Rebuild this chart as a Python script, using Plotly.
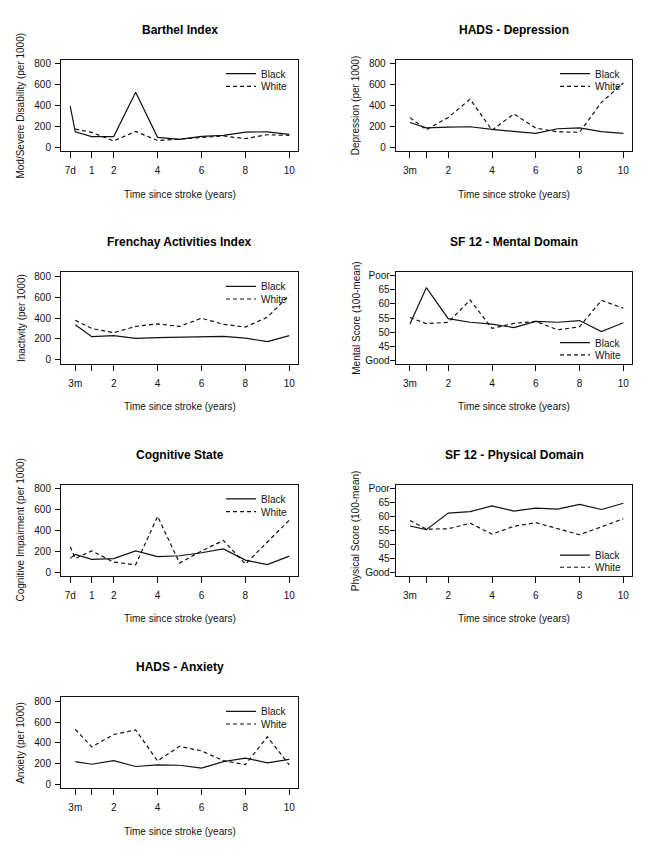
import plotly.graph_objects as go

# ---------------- data ----------------
D7 = 7 / 365          # 7 days in years
M3 = 0.25             # 3 months
years = [1, 2, 3, 4, 5, 6, 7, 8, 9, 10]
t_7d = [D7, M3] + years
t_3m = [M3] + years

barthel_black = [395, 150, 104, 104, 527, 97, 78, 107, 116, 147, 150, 125]
barthel_white = [176, 144, 63, 154, 66, 82, 94, 110, 85, 122, 116]
depr_black = [238, 188, 195, 198, 173, 157, 135, 179, 188, 151, 135]
depr_white = [285, 170, 287, 461, 166, 320, 185, 150, 145, 430, 615]
fren_black = [336, 222, 232, 206, 213, 218, 222, 224, 208, 174, 232]
fren_white = [378, 300, 260, 320, 344, 320, 398, 340, 314, 408, 618]
mental_black = [52.9, 65.8, 54.8, 53.5, 52.8, 51.6, 53.8, 53.5, 54.1, 50.2, 53.3]
mental_white = [55.2, 53.0, 53.5, 61.4, 51.3, 53.1, 53.8, 50.8, 51.9, 61.3, 58.5]
cog_black = [133, 172, 123, 130, 205, 150, 158, 187, 224, 116, 73, 155]
cog_white = [245, 132, 205, 97, 72, 536, 88, 204, 305, 78, 290, 499]
phys_black = [56.6, 55.3, 61.2, 61.7, 63.8, 61.9, 63.0, 62.6, 64.3, 62.5, 64.7]
phys_white = [58.6, 55.5, 55.6, 57.6, 53.7, 56.5, 57.8, 55.6, 53.5, 56.3, 59.2]
anx_black = [220, 195, 229, 173, 188, 185, 157, 220, 254, 207, 242]
anx_white = [530, 361, 480, 524, 226, 367, 323, 229, 191, 458, 188]

ticks_7d_vals = [D7, 1, 2, 4, 6, 8, 10]
ticks_7d_text = ["7d", "1", "2", "4", "6", "8", "10"]
ticks_3m_vals = [M3, 1, 2, 4, 6, 8, 10]
ticks_3m_text = ["3m", "", "2", "4", "6", "8", "10"]
rate_ticks = [0, 200, 400, 600, 800]
rate_text = ["0", "200", "400", "600", "800"]
score_ticks = [40, 45, 50, 55, 60, 65, 70]
score_text = ["Good", "45", "50", "55", "60", "65", "Poor"]

panels = [
    dict(title="Barthel Index", ylab="Mod/Severe Disability (per 1000)",
         xb=t_7d, yb=barthel_black, xw=t_3m, yw=barthel_white,
         xt=(ticks_7d_vals, ticks_7d_text), yt="rate", col=0, row=0, leg="top"),
    dict(title="HADS - Depression", ylab="Depression (per 1000)",
         xb=t_3m, yb=depr_black, xw=t_3m, yw=depr_white,
         xt=(ticks_3m_vals, ticks_3m_text), yt="rate", col=1, row=0, leg="top"),
    dict(title="Frenchay Activities Index", ylab="Inactivity (per 1000)",
         xb=t_3m, yb=fren_black, xw=t_3m, yw=fren_white,
         xt=(ticks_3m_vals, ticks_3m_text), yt="rate", col=0, row=1, leg="top"),
    dict(title="SF 12 - Mental Domain", ylab="Mental Score (100-mean)",
         xb=t_3m, yb=mental_black, xw=t_3m, yw=mental_white,
         xt=(ticks_3m_vals, ticks_3m_text), yt="score", col=1, row=1, leg="bottom"),
    dict(title="Cognitive State", ylab="Cognitive Impairment (per 1000)",
         xb=t_7d, yb=cog_black, xw=t_7d, yw=cog_white,
         xt=(ticks_7d_vals, ticks_7d_text), yt="rate", col=0, row=2, leg="top"),
    dict(title="SF 12 - Physical Domain", ylab="Physical Score (100-mean)",
         xb=t_3m, yb=phys_black, xw=t_3m, yw=phys_white,
         xt=(ticks_3m_vals, ticks_3m_text), yt="score", col=1, row=2, leg="bottom"),
    dict(title="HADS - Anxiety", ylab="Anxiety (per 1000)",
         xb=t_3m, yb=anx_black, xw=t_3m, yw=anx_white,
         xt=(ticks_3m_vals, ticks_3m_text), yt="rate", col=0, row=3, leg="top"),
]

# ---------------- layout geometry (page pixels) ----------------
OFF = 8                      # default body margin of the html page
W, H = 655 - 2 * OFF, 858 - 2 * OFF
COLS = [(61.0, 298.3), (395.7, 632.3)]
ROWS = [(58.0, 150.0), (271.7, 363.3), (485.3, 576.7), (698.7, 790.0)]
FONT = "Liberation Sans, Arial, Helvetica, sans-serif"
INK = "#111111"

fig = go.Figure()
layout = dict(
    width=W, height=H, margin=dict(l=0, r=0, t=0, b=0, pad=0),
    paper_bgcolor="white", plot_bgcolor="white",
    font=dict(family=FONT, size=10, color=INK),
    showlegend=True,
)
annotations = []

for i, p in enumerate(panels):
    n = i + 1
    xa = "x" if n == 1 else f"x{n}"
    ya = "y" if n == 1 else f"y{n}"
    xl, xr = (v - OFF for v in COLS[p["col"]])
    yt_px, yb_px = (v - OFF for v in ROWS[p["row"]])
    lg_b = "legend" if i == 0 else f"legend{2 * i + 1}"
    lg_w = f"legend{2 * i + 2}"

    fig.add_trace(go.Scatter(x=p["xb"], y=p["yb"], mode="lines", name="Black",
                             line=dict(color="#111111", width=1.2),
                             xaxis=xa, yaxis=ya, legend=lg_b, hoverinfo="skip"))
    fig.add_trace(go.Scatter(x=p["xw"], y=p["yw"], mode="lines", name="White",
                             line=dict(color="#111111", width=1.2, dash="4px,3px"),
                             xaxis=xa, yaxis=ya, legend=lg_w, hoverinfo="skip"))

    if p["yt"] == "rate":
        yrange, yvals, ytext, ystand = [-36, 836], rate_ticks, rate_text, 2
    else:
        yrange, yvals, ytext, ystand = [38.8, 71.2], score_ticks, score_text, -2

    layout["xaxis" if n == 1 else f"xaxis{n}"] = dict(
        domain=[xl / W, xr / W], anchor=ya, range=[-0.40, 10.41],
        tickmode="array", tickvals=p["xt"][0], ticktext=p["xt"][1],
        ticks="outside", ticklen=6, tickwidth=1, tickcolor=INK,
        ticklabelstandoff=4,
        showline=True, mirror=True, linecolor=INK, linewidth=1,
        showgrid=False, zeroline=False, tickfont=dict(size=10, color=INK),
        fixedrange=True)
    layout["yaxis" if n == 1 else f"yaxis{n}"] = dict(
        domain=[1 - yb_px / H, 1 - yt_px / H], anchor=xa, range=yrange,
        tickmode="array", tickvals=yvals, ticktext=ytext,
        ticks="outside", ticklen=5, tickwidth=1, tickcolor=INK,
        ticklabelstandoff=ystand,
        showline=True, mirror=True, linecolor=INK, linewidth=1,
        showgrid=False, zeroline=False, tickfont=dict(size=10, color=INK),
        fixedrange=True)

    # titles
    annotations.append(dict(text=f"<b>{p['title']}</b>", xref=f"{xa} domain", yref=f"{ya} domain",
                            x=0.5, y=1, yshift=30, xanchor="center", yanchor="middle",
                            showarrow=False, font=dict(size=12, color="#000000")))
    annotations.append(dict(text="Time since stroke (years)", xref=f"{xa} domain", yref=f"{ya} domain",
                            x=0.5, y=0, yshift=-43, xanchor="center", yanchor="middle",
                            showarrow=False, font=dict(size=10, color=INK)))
    annotations.append(dict(text=p["ylab"], xref=f"{xa} domain", yref=f"{ya} domain",
                            x=0, y=0.5, xshift=-40, xanchor="center", yanchor="middle",
                            textangle=-90, showarrow=False, font=dict(size=10, color=INK)))

    # legends
    if p["leg"] == "top":
        yb_l, yw_l = yt_px + 14, yt_px + 26.7
    else:
        yb_l, yw_l = yb_px - 21, yb_px - 8.8
    lx = (xr - 77.3) / W
    for name, yy in ((lg_b, yb_l), (lg_w, yw_l)):
        layout[name] = dict(x=lx, y=1 - yy / H, xanchor="left", yanchor="middle",
                            xref="paper", yref="paper", bgcolor="rgba(0,0,0,0)",
                            borderwidth=0, font=dict(size=10, color=INK))

layout["annotations"] = annotations
fig.update_layout(**layout)
fig.write_html("out.html")
